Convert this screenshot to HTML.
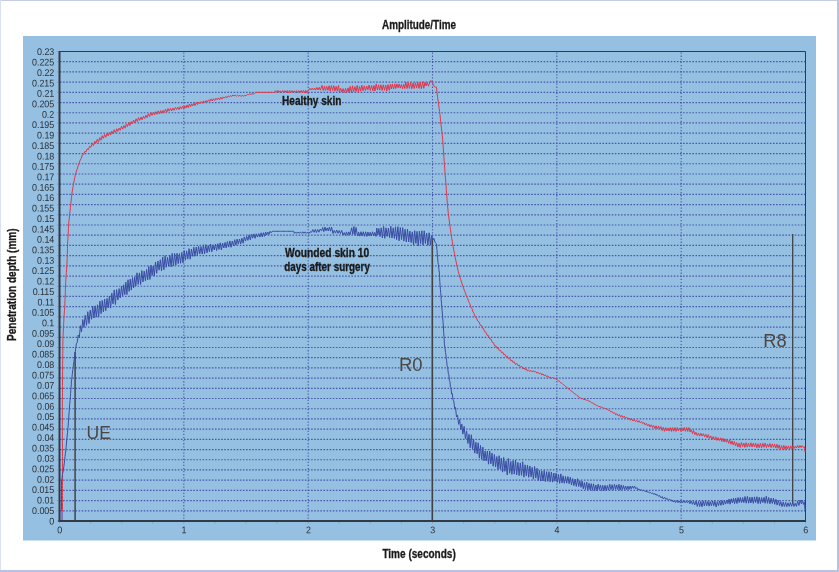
<!DOCTYPE html>
<html lang="en"><head><meta charset="utf-8"><title>Amplitude/Time</title>
<style>html,body{margin:0;padding:0;background:#fff}body{width:839px;height:572px;overflow:hidden}svg{display:block}text{font-family:"Liberation Sans",Arial,sans-serif}.tk{font-size:9.7px;fill:#2b3036}.b{font-weight:bold;fill:#1a1a1a;stroke:#1a1a1a;stroke-width:0.3px}.big{font-size:18px;fill:#4a4744}</style></head><body>
<svg width="839" height="572" viewBox="0 0 839 572">
<rect x="0" y="0" width="839" height="572" fill="#fff"/>
<rect x="0" y="0" width="839" height="1" fill="#c6cee7"/>
<rect x="0" y="0" width="1" height="572" fill="#dbe0f0"/>
<rect x="837" y="0" width="2" height="572" fill="#b7c3e2"/>
<rect x="0" y="570" width="839" height="2" fill="#b7c3e2"/>
<rect x="23" y="36" width="793" height="504.5" fill="#95c0e2"/>
<path d="M60.0 510.79H805.5 M60.0 500.59H805.5 M60.0 490.38H805.5 M60.0 480.17H805.5 M60.0 469.97H805.5 M60.0 459.76H805.5 M60.0 449.55H805.5 M60.0 439.35H805.5 M60.0 429.14H805.5 M60.0 418.93H805.5 M60.0 408.73H805.5 M60.0 398.52H805.5 M60.0 388.32H805.5 M60.0 378.11H805.5 M60.0 367.90H805.5 M60.0 357.70H805.5 M60.0 347.49H805.5 M60.0 337.28H805.5 M60.0 327.08H805.5 M60.0 316.87H805.5 M60.0 306.66H805.5 M60.0 296.46H805.5 M60.0 286.25H805.5 M60.0 276.04H805.5 M60.0 265.84H805.5 M60.0 255.63H805.5 M60.0 245.42H805.5 M60.0 235.22H805.5 M60.0 225.01H805.5 M60.0 214.80H805.5 M60.0 204.60H805.5 M60.0 194.39H805.5 M60.0 184.18H805.5 M60.0 173.98H805.5 M60.0 163.77H805.5 M60.0 153.57H805.5 M60.0 143.36H805.5 M60.0 133.15H805.5 M60.0 122.95H805.5 M60.0 112.74H805.5 M60.0 102.53H805.5 M60.0 92.33H805.5 M60.0 82.12H805.5 M60.0 71.91H805.5 M60.0 61.71H805.5" stroke="#4656a8" stroke-width="1.2" stroke-dasharray="1.55 1.55" fill="none"/>
<path d="M183.83 52.5V521.0 M308.17 52.5V521.0 M432.50 52.5V521.0 M556.83 52.5V521.0 M681.17 52.5V521.0" stroke="#4656a8" stroke-width="1.1" stroke-dasharray="1.3 1.8" fill="none"/>
<path d="M59.5 51.5H805.5V521.0" stroke="#303b49" stroke-width="1" fill="none"/>
<path d="M75.1 352V521" stroke="#414246" stroke-width="1.5" fill="none"/>
<path d="M432.3 238V521" stroke="#414246" stroke-width="1.6" fill="none"/>
<path d="M792.7 234V503" stroke="#414246" stroke-width="1.3" fill="none"/>
<polyline points="62.5,520.0 62.5,516.5 62.5,513.0 62.5,509.6 62.5,506.1 62.5,502.6 62.5,499.1 62.5,495.6 62.5,492.1 62.5,488.7 62.5,485.2 62.5,481.7 62.5,478.1 62.5,474.6 62.5,471.0 62.5,467.4 62.5,463.8 62.5,460.3 62.5,456.7 62.5,453.1 62.5,449.6 62.5,446.0 62.4,442.4 62.4,438.8 62.4,435.3 62.4,431.7 62.4,428.1 62.4,424.6 62.4,421.0 62.4,417.4 62.4,413.8 62.4,410.3 62.4,406.7 62.4,403.2 62.4,399.7 62.5,396.1 62.5,392.6 62.5,389.1 62.5,385.6 62.5,382.1 62.5,378.6 62.6,375.0 62.6,371.5 62.6,368.0 62.6,364.4 62.7,360.8 62.7,357.2 62.8,353.6 62.8,350.1 62.8,346.5 62.9,342.9 62.9,339.3 63.1,335.1 63.3,331.0 63.4,327.8 63.6,324.5 63.8,321.2 63.9,318.0 64.2,314.2 64.5,310.4 64.8,306.6 64.9,303.1 65.0,299.7 65.2,296.2 65.3,292.7 65.4,289.3 65.5,285.8 65.7,282.5 65.9,279.1 66.1,275.8 66.4,272.5 66.6,269.1 66.9,265.8 67.0,262.1 67.2,258.4 67.3,254.7 67.4,251.0 67.5,248.2 67.5,245.3 67.7,241.9 67.9,238.6 68.1,235.2 68.3,231.9 68.4,228.5 68.6,225.2 68.9,221.6 69.3,218.0 69.6,214.4 70.0,211.1 70.4,207.7 70.8,204.4 71.1,201.1 71.5,197.7 71.8,194.4 72.3,191.0 72.9,187.7 73.4,184.3 74.1,180.9 74.8,177.4 75.5,174.0 76.5,171.0 77.8,166.9 79.1,163.2 80.2,160.1 81.2,158.5 82.3,155.0 83.6,154.5 84.9,151.4 86.1,151.8 87.2,148.8 88.4,149.7 89.6,146.2 90.9,147.3 92.2,143.5 93.5,145.5 94.8,141.2 96.0,143.1 97.3,139.2 98.5,142.2 99.7,137.6 101.0,140.2 102.2,135.7 103.4,138.4 104.6,134.5 105.8,137.3 107.0,133.7 108.2,135.8 109.4,132.2 110.6,135.1 111.8,131.2 113.0,133.8 114.2,129.7 115.5,132.6 116.7,128.8 117.9,131.3 119.1,128.1 120.3,130.3 121.5,126.3 122.7,129.2 123.9,125.5 125.1,128.2 126.3,124.1 127.5,126.6 128.7,122.5 129.9,125.5 131.2,121.6 132.4,124.0 133.6,120.0 134.8,123.0 136.1,118.8 137.3,121.5 138.5,117.6 139.7,120.3 141.0,117.0 142.2,119.8 143.4,116.2 144.7,118.5 145.9,115.3 147.1,117.6 148.3,113.7 149.6,116.5 150.8,112.6 152.0,115.4 153.3,112.2 154.5,115.0 155.7,111.7 156.9,114.3 158.2,110.9 159.4,114.0 160.6,110.6 161.9,113.2 163.1,110.3 164.3,112.6 165.5,109.2 166.8,112.2 168.0,108.5 169.2,111.1 170.5,108.3 171.7,110.9 172.9,108.1 174.1,110.3 175.4,107.5 176.6,109.5 177.8,107.1 179.0,109.6 180.2,106.7 181.4,108.9 182.6,106.2 183.8,109.0 184.9,105.9 186.0,108.0 187.1,104.9 188.2,107.6 189.4,104.1 190.5,106.9 191.6,103.9 192.7,106.0 193.8,103.2 195.0,105.6 196.3,102.3 197.5,104.5 198.7,102.3 199.9,103.8 201.2,101.7 202.4,103.3 203.6,100.9 204.9,102.6 206.1,100.6 207.3,102.0 208.5,99.8 209.8,101.4 211.0,98.9 212.2,101.0 213.5,98.7 214.7,100.5 215.9,98.3 217.1,99.8 218.4,97.8 219.6,99.7 220.8,97.3 222.1,99.1 223.3,96.9 224.5,98.2 225.7,96.5 227.0,97.7 228.2,95.9 229.4,96.9 230.5,95.5 231.7,96.5 232.8,95.0 234.0,96.0 235.2,95.0 236.4,96.1 237.6,95.1 238.8,96.2 239.9,95.2 241.1,96.5 242.3,95.1 243.5,96.3 244.7,95.3 246.0,95.8 247.3,94.5 248.6,94.6 249.7,93.9 250.9,94.5 252.0,93.7 253.2,94.1 254.3,93.5 255.8,92.4 257.0,92.4 258.2,92.4 259.4,92.4 260.6,92.4 261.8,92.4 263.0,92.4 264.2,92.4 265.3,92.4 266.5,92.4 267.7,92.4 268.9,92.4 270.1,92.4 271.3,92.4 272.5,92.4 273.7,92.4 274.5,92.4 275.7,90.7 276.8,92.5 278.0,90.4 279.1,92.4 280.3,90.8 281.5,92.8 282.6,90.6 283.8,92.4 284.9,90.6 286.1,92.4 287.2,90.6 288.4,92.8 289.6,90.4 290.7,92.7 291.9,90.7 293.0,92.5 294.2,90.8 295.4,92.7 296.5,90.6 297.7,92.7 298.8,90.7 300.0,92.5 301.1,90.4 302.3,92.8 303.5,90.4 304.6,92.8 305.8,90.4 306.9,92.7 308.1,90.7 308.8,90.2 309.9,88.2 311.1,89.9 312.2,88.2 313.4,90.0 314.6,88.0 315.7,90.1 316.9,87.4 318.0,89.9 319.2,87.3 320.3,90.2 322.0,85.4 323.2,90.5 324.4,86.2 325.5,90.4 326.7,86.3 327.9,90.3 329.1,85.8 330.2,91.2 331.4,85.5 332.6,90.7 333.8,85.7 335.0,91.1 336.1,86.4 337.3,90.9 338.5,85.4 339.4,92.4 340.6,88.1 341.9,92.1 343.1,88.6 344.3,92.4 345.5,88.5 346.8,92.4 348.0,87.9 349.0,92.0 350.2,86.3 351.4,92.8 352.5,85.8 353.7,91.6 354.9,86.6 356.1,91.5 357.2,85.4 358.4,92.5 359.6,86.5 360.6,91.1 361.8,85.3 363.0,90.8 364.3,85.9 365.5,90.6 366.7,86.1 367.9,89.8 369.1,85.0 370.3,90.5 371.6,85.5 372.8,90.8 374.0,85.5 375.0,91.0 376.2,83.9 377.4,90.0 378.6,84.8 379.7,90.1 380.9,84.8 382.1,90.5 383.3,84.8 384.5,90.3 385.7,85.0 386.8,91.0 388.0,84.6 389.2,90.3 390.4,84.3 391.3,89.0 392.4,84.0 393.6,89.0 394.7,83.9 395.8,88.5 396.9,83.9 398.1,87.9 399.2,84.0 400.3,88.1 401.4,84.5 402.6,88.8 403.7,84.3 404.8,88.5 405.8,82.1 407.0,88.5 408.2,82.7 409.4,88.4 410.6,82.3 411.8,88.8 413.0,83.0 414.2,88.5 415.4,82.8 416.6,88.1 417.8,82.0 419.0,88.4 420.2,82.3 421.4,88.8 422.6,81.8 423.8,88.3 425.0,82.2 426.0,86.0 427.3,82.4 428.5,86.2 429.8,82.4 430.8,80.5 431.8,81.9 432.7,83.3 433.6,85.2 434.6,87.0 435.6,87.1 436.5,87.2 436.8,90.1 437.0,92.9 437.6,97.2 438.2,101.6 438.7,104.9 439.1,108.3 439.6,111.6 440.0,114.8 440.3,118.0 440.6,121.3 441.0,124.5 441.4,128.2 441.9,131.9 442.3,135.6 442.7,139.3 442.9,142.9 443.2,146.5 443.4,150.1 443.7,153.7 443.9,157.3 444.2,160.8 444.4,164.4 444.7,168.0 445.0,171.6 445.2,175.2 445.5,178.7 445.8,182.3 446.1,185.9 446.3,189.5 446.6,193.1 446.8,196.7 447.1,200.8 447.5,205.0 447.8,208.1 448.1,211.2 448.4,214.3 448.9,218.1 449.4,222.0 449.9,225.8 450.5,229.6 451.0,233.5 451.6,237.3 452.3,241.6 453.0,245.9 453.7,249.7 454.5,253.5 455.2,257.3 455.9,260.7 456.6,264.0 457.3,267.4 458.4,271.7 459.5,276.0 460.7,279.4 461.8,283.1 463.0,286.3 464.2,290.1 465.4,292.8 466.6,296.9 467.7,298.7 468.8,301.9 469.8,303.5 470.9,307.0 472.0,308.7 473.0,312.0 474.1,313.5 475.2,317.1 476.5,318.0 477.8,321.1 479.0,321.8 480.3,325.3 481.4,325.3 482.5,328.3 483.5,328.5 484.6,331.7 485.9,332.1 487.1,335.3 488.4,335.4 489.6,338.7 490.9,339.0 492.2,342.2 493.4,342.6 494.7,345.9 496.0,345.9 497.1,348.4 498.2,348.1 499.4,350.7 500.5,350.3 501.6,352.7 502.8,352.3 503.9,354.9 505.0,354.4 506.2,356.8 507.3,356.2 508.5,358.6 509.6,358.2 510.8,360.8 512.0,360.1 513.1,362.5 514.3,361.9 515.5,364.5 516.8,363.4 518.0,365.7 519.2,365.1 520.4,367.2 521.7,366.4 522.9,368.7 524.1,367.9 525.2,369.8 526.4,368.9 527.5,371.0 528.7,370.3 529.8,371.4 531.0,370.4 532.1,371.8 533.3,370.7 534.4,372.0 535.6,371.5 536.9,373.1 538.1,372.3 539.3,373.8 540.5,373.0 541.8,375.0 543.0,373.9 544.2,375.7 545.4,374.9 546.6,376.7 547.8,375.9 549.0,377.7 550.2,377.0 551.3,378.4 552.5,377.5 553.6,378.6 554.8,378.3 555.9,378.9 557.1,379.5 558.3,380.8 559.5,381.4 560.7,382.7 561.9,383.3 563.1,384.6 564.3,385.2 565.5,386.6 566.7,387.1 567.9,388.5 569.1,389.1 570.3,390.4 571.4,390.9 572.5,392.1 573.6,392.7 574.7,393.9 575.9,394.4 577.0,395.6 578.1,396.1 579.2,397.5 580.3,397.9 581.5,398.7 582.8,398.7 584.0,399.5 585.2,399.5 586.4,400.3 587.7,400.3 588.9,401.1 590.1,401.4 591.4,402.6 592.6,402.8 593.8,404.1 595.0,404.3 596.3,405.5 597.5,405.7 598.7,406.6 600.0,406.6 601.2,407.4 602.4,407.3 603.6,408.3 604.9,408.2 606.1,409.0 607.3,409.0 608.5,410.5 609.6,410.3 610.8,411.8 612.0,411.6 613.2,413.2 614.5,412.7 615.7,414.8 616.9,413.8 618.2,415.8 619.4,414.4 620.6,417.1 621.8,415.4 623.1,417.7 624.3,416.1 625.5,418.6 626.8,417.2 628.0,419.3 629.2,418.0 630.4,420.3 631.7,418.7 632.9,421.0 634.1,419.4 635.4,421.5 636.6,420.2 637.8,422.2 639.0,420.7 640.3,422.8 641.5,421.5 642.7,423.7 644.0,422.5 645.2,424.9 646.4,423.3 647.6,426.0 648.9,424.3 650.1,427.0 651.3,424.8 652.5,427.5 653.7,425.5 654.9,428.5 656.1,425.9 657.3,429.0 658.5,426.0 659.7,429.2 660.9,426.6 662.1,430.6 663.3,427.4 664.5,431.3 665.7,427.6 666.8,430.8 668.0,427.9 669.1,431.1 670.3,427.6 671.5,431.4 672.6,427.6 673.8,431.2 675.0,427.5 676.1,431.4 677.3,427.6 678.4,431.0 679.6,428.2 680.8,430.9 681.9,427.9 683.1,430.9 684.3,427.4 685.4,431.3 686.6,427.6 687.7,431.4 688.9,427.5 690.1,432.0 691.3,429.7 692.5,433.5 693.6,430.6 694.8,434.6 696.0,432.3 697.2,435.6 698.5,433.0 699.7,436.1 700.9,433.3 702.1,436.0 703.4,433.7 704.6,436.9 705.8,434.3 707.1,437.7 708.3,434.6 709.5,438.4 710.7,435.9 712.0,439.2 713.2,436.5 714.4,440.0 715.7,436.8 716.9,440.4 718.1,437.6 719.3,440.5 720.6,437.8 721.8,441.5 722.9,438.2 724.1,442.0 725.2,439.1 726.3,442.2 727.4,439.6 728.6,443.4 729.7,439.8 730.9,444.2 732.0,440.9 733.2,444.9 734.4,441.5 735.5,445.7 736.7,442.6 737.8,447.0 739.0,443.3 740.2,447.5 741.4,442.6 742.6,446.6 743.8,443.1 744.9,447.4 746.1,442.7 747.3,447.1 748.5,443.4 749.7,446.9 750.9,442.8 752.1,447.0 753.3,443.2 754.5,447.0 755.7,443.3 756.8,447.8 758.0,443.8 759.2,447.7 760.4,443.4 761.6,447.8 762.8,443.3 764.0,447.2 765.2,443.1 766.4,447.5 767.6,444.1 768.7,447.1 769.9,443.6 771.1,447.6 772.3,443.9 773.5,447.3 774.6,444.2 775.8,448.1 776.9,444.3 778.1,448.4 779.2,444.9 780.4,449.5 781.5,445.7 782.7,449.5 783.8,445.3 785.0,449.5 786.1,445.9 787.2,449.0 788.4,445.9 789.6,449.4 790.7,445.9 791.9,448.7 793.0,446.0 794.2,448.4 795.3,446.1 796.5,448.0 797.6,445.5 798.8,447.8 799.9,445.4 801.1,447.5 802.2,445.6 803.4,447.4 804.5,446.7 805.0,452.0" fill="none" stroke="#e0364a" stroke-width="1" stroke-linejoin="round"/>
<polyline points="61.5,520.0 61.5,516.5 61.5,513.1 61.5,509.6 61.5,506.2 61.5,502.7 61.5,499.3 61.5,495.8 61.5,492.4 61.5,488.9 61.5,485.5 61.5,482.0 62.0,478.3 62.4,474.6 63.3,470.5 63.8,466.8 64.3,463.0 64.7,459.8 65.0,456.6 65.4,453.4 65.8,450.2 66.2,446.6 66.5,443.0 66.8,439.4 67.2,435.9 67.6,432.3 67.9,428.7 68.2,425.2 68.4,421.8 68.7,418.4 68.9,414.9 69.2,411.4 69.4,408.0 69.7,404.2 70.1,400.5 70.4,396.7 70.6,393.5 70.8,390.4 71.1,387.2 71.3,384.1 71.5,380.9 72.0,377.1 72.4,373.2 72.9,369.4 73.4,365.6 73.9,361.8 74.4,358.0 75.0,353.5 75.5,350.0 76.3,343.9 77.2,342.5 78.2,335.0 79.3,337.6 80.4,325.7 81.5,331.9 82.8,319.6 84.0,327.5 85.2,315.3 86.5,325.4 87.8,311.7 89.0,323.5 90.2,310.2 91.5,319.3 92.7,306.0 93.9,318.0 95.1,305.8 96.3,317.1 97.5,304.8 98.7,316.8 99.9,301.1 101.1,313.6 102.2,300.4 103.4,312.0 104.6,299.1 105.8,310.7 107.0,298.4 108.2,307.9 109.4,296.2 110.6,308.1 111.8,293.2 113.0,303.9 114.2,290.0 115.4,304.5 116.6,289.6 117.9,299.9 119.1,288.6 120.3,297.9 121.5,286.3 122.6,296.0 123.7,284.8 124.8,294.6 125.8,282.1 126.9,294.6 128.0,279.8 129.1,291.4 130.2,279.1 131.3,290.1 132.5,277.6 133.6,287.9 134.7,276.9 135.8,286.1 137.0,272.8 138.2,284.4 139.4,272.9 140.6,284.5 141.8,270.6 143.0,282.0 144.2,271.1 145.4,280.7 146.6,269.5 147.7,279.9 148.8,266.4 149.9,279.4 151.0,265.2 152.1,275.5 153.2,266.1 154.3,275.9 155.5,262.0 156.7,273.3 157.9,261.0 159.1,270.1 160.3,259.7 161.5,270.8 162.7,257.0 163.9,269.8 165.1,255.7 166.3,267.3 167.5,257.3 168.7,266.3 169.9,255.3 171.1,266.8 172.2,253.4 173.4,266.0 174.6,253.5 175.8,265.1 177.0,253.3 178.2,263.6 179.4,253.7 180.6,263.3 181.8,252.4 183.0,262.8 184.2,250.5 185.4,260.2 186.6,250.9 187.8,259.1 189.0,248.6 190.2,259.2 191.4,249.1 192.6,256.3 193.8,247.3 195.0,256.2 196.2,247.1 197.4,254.8 198.6,246.3 199.8,253.8 201.0,246.5 202.2,254.1 203.4,244.8 204.6,253.9 205.8,244.7 207.0,252.9 208.2,245.6 209.4,251.7 210.6,244.0 211.8,251.8 213.0,244.9 214.2,250.0 215.4,244.1 216.6,250.6 217.8,243.7 219.0,249.4 220.2,242.8 221.4,249.9 222.6,243.0 223.8,248.0 225.0,242.4 226.2,248.0 227.4,241.5 228.7,247.1 229.9,240.9 231.1,247.3 232.3,241.0 233.5,246.0 234.7,239.7 235.9,245.2 237.1,239.1 238.3,244.1 239.5,239.0 240.7,243.9 241.9,238.1 243.1,243.2 244.3,236.9 245.5,241.1 246.7,236.3 247.9,240.3 249.1,234.8 250.3,239.8 251.5,234.5 252.7,238.1 253.9,233.9 255.1,238.3 256.3,233.8 257.5,237.0 258.7,233.7 259.9,237.0 261.1,232.8 262.3,237.0 263.4,232.7 264.5,236.3 265.6,232.0 266.7,234.9 267.8,232.1 268.9,234.5 270.0,231.3 271.1,232.8 272.2,231.3 273.3,231.3 274.5,231.3 275.7,231.3 276.9,231.3 278.1,231.3 279.3,231.3 280.5,231.3 281.7,231.3 282.9,231.3 284.1,231.3 285.3,231.3 286.5,231.3 287.7,231.3 288.9,231.3 290.1,231.3 291.3,231.3 292.5,231.3 293.7,231.3 294.4,233.4 295.6,232.0 296.8,233.3 298.0,232.1 299.2,233.2 300.4,232.1 301.6,233.3 302.8,231.8 304.0,233.3 305.2,231.8 306.4,233.3 307.6,232.1 308.8,233.5 310.0,231.9 311.6,232.2 312.8,229.6 314.1,232.3 315.3,229.4 316.5,232.6 317.7,229.5 319.0,232.2 320.2,229.0 321.6,230.9 322.7,227.5 323.8,231.7 324.9,227.1 326.0,230.9 327.2,227.9 328.3,231.0 329.4,227.0 330.5,231.2 331.6,227.2 333.0,233.6 334.2,230.4 335.5,233.1 336.7,230.0 338.0,233.4 339.2,230.5 340.5,233.5 341.7,230.4 343.0,235.0 344.2,232.6 345.3,235.4 346.5,231.9 347.7,235.3 348.8,231.9 350.0,234.8 351.7,227.8 352.8,234.3 353.9,226.5 354.9,235.1 356.0,227.5 357.5,235.9 358.7,232.2 359.8,236.1 361.0,231.7 362.1,235.8 363.3,231.8 364.4,236.3 365.6,231.8 366.8,236.4 367.9,232.0 369.1,235.9 370.2,232.3 371.4,236.0 372.5,231.8 373.7,235.7 374.8,232.4 376.0,236.4 376.8,228.0 377.9,234.9 378.9,228.5 380.0,236.6 381.2,227.8 382.4,237.9 383.6,226.4 384.8,238.3 386.0,227.8 387.2,236.4 388.4,228.1 389.6,237.7 390.8,226.3 392.0,238.0 393.2,227.8 394.4,238.4 395.5,226.8 396.7,239.6 397.9,226.6 399.1,240.8 400.3,227.5 401.5,239.6 402.7,227.6 403.9,241.1 405.1,229.2 406.3,242.0 407.5,229.1 408.7,241.9 409.9,231.1 411.1,242.6 412.3,231.9 413.5,245.0 414.7,230.7 415.9,243.4 417.0,231.4 418.2,245.9 419.4,231.2 420.6,243.6 421.8,230.8 423.0,245.0 424.2,230.8 425.4,243.5 426.6,233.0 427.9,245.3 429.1,232.8 430.4,244.9 431.6,235.5 433.0,239.9 433.8,238.3 435.2,242.5 436.6,243.9 436.8,249.5 437.1,250.6 437.3,256.0 437.6,257.2 438.0,262.6 438.5,264.8 438.9,269.6 439.4,273.1 439.6,277.4 439.8,281.7 440.1,285.5 440.4,289.3 440.7,292.7 441.0,296.2 441.2,299.6 441.5,303.1 441.8,306.5 442.1,310.2 442.4,314.0 442.7,317.7 443.0,321.5 443.3,325.2 443.5,329.0 443.7,332.5 444.0,336.5 444.2,339.8 444.4,344.1 444.9,347.5 445.5,352.5 445.9,354.5 446.2,358.8 446.6,360.4 447.0,365.3 447.7,367.7 448.4,373.9 448.9,374.8 449.4,380.8 449.9,381.1 450.4,386.9 450.9,387.3 451.6,394.0 452.3,393.5 453.0,400.3 453.8,400.8 454.7,408.6 455.5,407.5 456.5,417.0 457.6,415.2 458.6,424.3 459.7,419.6 460.8,429.5 461.8,424.1 462.9,434.1 464.1,426.3 465.4,438.7 466.6,430.9 467.9,443.5 469.0,434.3 470.2,447.8 471.3,434.8 472.5,449.1 473.6,439.4 474.8,453.1 475.9,442.2 477.1,453.8 478.2,442.8 479.4,458.1 480.5,445.4 481.7,459.3 482.8,447.0 484.0,460.8 485.1,451.0 486.2,460.9 487.4,451.0 488.5,464.2 489.7,451.0 490.8,463.9 492.0,453.0 493.2,466.2 494.4,454.6 495.6,466.9 496.8,456.6 498.0,469.6 499.1,455.7 500.3,469.0 501.4,458.2 502.6,472.1 503.7,457.4 504.9,471.3 506.0,460.8 507.2,475.0 508.4,458.4 509.6,473.2 510.8,461.5 511.9,474.4 513.1,460.5 514.3,474.1 515.5,460.2 516.7,474.8 517.9,462.4 519.1,475.6 520.3,462.9 521.5,475.3 522.7,461.7 523.9,477.2 525.1,464.8 526.3,475.8 527.5,465.0 528.7,477.3 529.9,466.0 531.1,476.8 532.2,467.4 533.4,479.2 534.6,466.5 535.8,478.0 537.0,468.3 538.2,480.5 539.4,470.4 540.6,481.1 541.8,470.9 543.0,481.0 544.2,470.5 545.4,481.5 546.6,471.7 547.8,481.4 549.0,471.6 550.2,481.9 551.4,472.0 552.6,482.1 553.8,473.0 554.9,481.2 556.1,473.1 557.3,482.4 558.5,474.5 559.6,483.3 560.8,473.9 562.0,483.0 563.1,475.8 564.3,483.3 565.5,476.5 566.7,483.2 567.9,476.6 569.1,483.7 570.3,477.2 571.5,485.0 572.7,478.6 573.9,485.7 575.1,479.2 576.3,486.4 577.5,478.7 578.7,486.5 579.8,480.7 581.0,487.3 582.1,481.1 583.3,488.8 584.4,482.5 585.5,489.4 586.7,482.1 587.8,489.9 589.0,483.3 590.1,489.8 591.2,483.6 592.4,490.3 593.5,483.8 594.7,490.8 595.8,485.0 597.0,490.6 598.1,484.1 599.3,489.6 600.4,485.0 601.6,490.5 602.7,485.3 603.9,490.7 605.0,485.3 606.2,490.5 607.3,485.5 608.5,490.1 609.7,484.2 610.9,489.6 612.1,484.7 613.3,490.0 614.5,484.3 615.6,489.3 616.7,484.9 617.8,489.5 618.9,484.3 620.1,490.2 621.2,484.9 622.3,489.6 623.4,485.5 624.5,489.6 625.6,486.0 626.7,489.7 627.9,486.2 629.0,489.5 630.1,486.1 631.2,488.9 632.4,486.0 633.5,488.3 634.6,486.1 635.7,488.8 636.8,487.6 637.8,489.8 638.9,488.9 640.1,490.6 641.3,489.5 642.5,490.9 643.6,490.2 644.8,491.4 646.0,491.0 647.1,492.0 648.2,491.8 649.3,492.8 650.4,492.5 651.5,493.5 652.6,492.9 653.8,494.4 654.9,493.5 656.0,495.1 657.2,494.5 658.4,496.3 659.6,495.5 660.9,497.8 662.1,496.5 663.3,499.0 664.6,497.2 665.9,499.4 667.1,498.3 668.4,500.3 669.7,499.1 670.9,500.8 672.0,499.8 673.1,501.9 674.3,500.7 675.5,502.5 676.7,500.6 677.9,502.7 679.1,500.9 680.3,502.8 681.5,500.8 682.7,502.7 683.9,500.6 685.1,502.8 686.3,501.1 687.5,502.8 688.7,500.9 689.9,503.7 691.2,500.9 692.4,504.3 693.6,501.4 694.8,504.9 696.1,501.1 697.3,506.4 698.5,501.5 699.7,506.5 700.8,501.4 702.0,506.8 703.2,501.0 704.4,506.0 705.5,500.8 706.7,505.7 707.9,501.3 709.1,506.2 710.2,501.6 711.4,505.7 712.6,501.0 713.8,505.7 714.9,501.2 716.1,506.9 717.3,501.7 718.5,505.6 719.7,500.9 720.9,505.4 722.1,500.5 723.3,505.0 724.5,500.7 725.6,504.1 726.7,500.2 727.9,503.6 729.0,499.1 730.1,504.2 731.2,498.8 732.4,503.0 733.5,498.2 734.6,503.7 735.7,498.1 736.9,503.5 738.0,497.6 739.2,502.6 740.3,497.5 741.5,502.5 742.7,497.6 743.8,502.7 745.0,496.5 746.2,503.2 747.4,496.4 748.6,503.2 749.8,497.3 750.9,503.0 752.1,497.0 753.3,503.3 754.5,496.9 755.7,502.5 756.9,496.7 758.0,503.6 759.2,497.3 760.4,503.5 761.6,497.6 762.8,502.5 764.0,497.3 765.1,503.3 766.3,496.2 767.5,503.3 768.7,497.5 769.9,503.8 771.1,498.2 772.3,503.4 773.5,498.2 774.7,504.3 775.9,499.4 777.1,505.1 778.4,500.3 779.6,505.7 780.8,501.6 782.0,506.7 783.2,502.2 784.4,506.5 785.6,502.4 786.8,506.7 788.0,502.8 789.2,506.4 790.4,502.6 791.6,506.3 792.8,502.3 794.0,506.4 795.2,503.2 796.4,506.4 797.6,501.3 798.9,505.5 800.1,500.1 801.4,503.9 802.4,500.3 803.5,504.4 804.5,501.9 804.8,507.0 805.0,510.0" fill="none" stroke="#3a4da3" stroke-width="1" stroke-linejoin="round"/>
<path d="M61.8 511V520" stroke="#6b83d3" stroke-width="2" fill="none"/>
<path d="M59.5 51.0V522.0" stroke="#303b49" stroke-width="2" fill="none"/>
<path d="M58.5 521.0H806.0" stroke="#303b49" stroke-width="2" fill="none"/>
<path d="M59.50 522V523.6 M90.58 522V523.6 M121.67 522V523.6 M152.75 522V523.6 M183.83 522V523.6 M214.92 522V523.6 M246.00 522V523.6 M277.08 522V523.6 M308.17 522V523.6 M339.25 522V523.6 M370.33 522V523.6 M401.42 522V523.6 M432.50 522V523.6 M463.58 522V523.6 M494.67 522V523.6 M525.75 522V523.6 M556.83 522V523.6 M587.92 522V523.6 M619.00 522V523.6 M650.08 522V523.6 M681.17 522V523.6 M712.25 522V523.6 M743.33 522V523.6 M774.42 522V523.6 M805.50 522V523.6 M56.8 521.00H58.4 M56.8 510.79H58.4 M56.8 500.59H58.4 M56.8 490.38H58.4 M56.8 480.17H58.4 M56.8 469.97H58.4 M56.8 459.76H58.4 M56.8 449.55H58.4 M56.8 439.35H58.4 M56.8 429.14H58.4 M56.8 418.93H58.4 M56.8 408.73H58.4 M56.8 398.52H58.4 M56.8 388.32H58.4 M56.8 378.11H58.4 M56.8 367.90H58.4 M56.8 357.70H58.4 M56.8 347.49H58.4 M56.8 337.28H58.4 M56.8 327.08H58.4 M56.8 316.87H58.4 M56.8 306.66H58.4 M56.8 296.46H58.4 M56.8 286.25H58.4 M56.8 276.04H58.4 M56.8 265.84H58.4 M56.8 255.63H58.4 M56.8 245.42H58.4 M56.8 235.22H58.4 M56.8 225.01H58.4 M56.8 214.80H58.4 M56.8 204.60H58.4 M56.8 194.39H58.4 M56.8 184.18H58.4 M56.8 173.98H58.4 M56.8 163.77H58.4 M56.8 153.57H58.4 M56.8 143.36H58.4 M56.8 133.15H58.4 M56.8 122.95H58.4 M56.8 112.74H58.4 M56.8 102.53H58.4 M56.8 92.33H58.4 M56.8 82.12H58.4 M56.8 71.91H58.4 M56.8 61.71H58.4 M56.8 51.50H58.4" stroke="#a4566a" stroke-width="1" fill="none" opacity="0.35"/>
<text class="tk" transform="translate(54.3 55.1) rotate(0.05) scale(0.92 1)" text-anchor="end">0.23</text>
<text class="tk" transform="translate(54.3 65.5) rotate(0.05) scale(0.92 1)" text-anchor="end">0.225</text>
<text class="tk" transform="translate(54.3 76.0) rotate(0.05) scale(0.92 1)" text-anchor="end">0.22</text>
<text class="tk" transform="translate(54.3 86.4) rotate(0.05) scale(0.92 1)" text-anchor="end">0.215</text>
<text class="tk" transform="translate(54.3 96.8) rotate(0.05) scale(0.92 1)" text-anchor="end">0.21</text>
<text class="tk" transform="translate(54.3 107.2) rotate(0.05) scale(0.92 1)" text-anchor="end">0.205</text>
<text class="tk" transform="translate(54.3 117.7) rotate(0.05) scale(0.92 1)" text-anchor="end">0.2</text>
<text class="tk" transform="translate(54.3 128.1) rotate(0.05) scale(0.92 1)" text-anchor="end">0.195</text>
<text class="tk" transform="translate(54.3 138.5) rotate(0.05) scale(0.92 1)" text-anchor="end">0.19</text>
<text class="tk" transform="translate(54.3 149.0) rotate(0.05) scale(0.92 1)" text-anchor="end">0.185</text>
<text class="tk" transform="translate(54.3 159.4) rotate(0.05) scale(0.92 1)" text-anchor="end">0.18</text>
<text class="tk" transform="translate(54.3 169.8) rotate(0.05) scale(0.92 1)" text-anchor="end">0.175</text>
<text class="tk" transform="translate(54.3 180.2) rotate(0.05) scale(0.92 1)" text-anchor="end">0.17</text>
<text class="tk" transform="translate(54.3 190.7) rotate(0.05) scale(0.92 1)" text-anchor="end">0.165</text>
<text class="tk" transform="translate(54.3 201.1) rotate(0.05) scale(0.92 1)" text-anchor="end">0.16</text>
<text class="tk" transform="translate(54.3 211.5) rotate(0.05) scale(0.92 1)" text-anchor="end">0.155</text>
<text class="tk" transform="translate(54.3 222.0) rotate(0.05) scale(0.92 1)" text-anchor="end">0.15</text>
<text class="tk" transform="translate(54.3 232.4) rotate(0.05) scale(0.92 1)" text-anchor="end">0.145</text>
<text class="tk" transform="translate(54.3 242.8) rotate(0.05) scale(0.92 1)" text-anchor="end">0.14</text>
<text class="tk" transform="translate(54.3 253.2) rotate(0.05) scale(0.92 1)" text-anchor="end">0.135</text>
<text class="tk" transform="translate(54.3 263.7) rotate(0.05) scale(0.92 1)" text-anchor="end">0.13</text>
<text class="tk" transform="translate(54.3 274.1) rotate(0.05) scale(0.92 1)" text-anchor="end">0.125</text>
<text class="tk" transform="translate(54.3 284.5) rotate(0.05) scale(0.92 1)" text-anchor="end">0.12</text>
<text class="tk" transform="translate(54.3 295.0) rotate(0.05) scale(0.92 1)" text-anchor="end">0.115</text>
<text class="tk" transform="translate(54.3 305.4) rotate(0.05) scale(0.92 1)" text-anchor="end">0.11</text>
<text class="tk" transform="translate(54.3 315.8) rotate(0.05) scale(0.92 1)" text-anchor="end">0.105</text>
<text class="tk" transform="translate(54.3 326.3) rotate(0.05) scale(0.92 1)" text-anchor="end">0.1</text>
<text class="tk" transform="translate(54.3 336.7) rotate(0.05) scale(0.92 1)" text-anchor="end">0.095</text>
<text class="tk" transform="translate(54.3 347.1) rotate(0.05) scale(0.92 1)" text-anchor="end">0.09</text>
<text class="tk" transform="translate(54.3 357.5) rotate(0.05) scale(0.92 1)" text-anchor="end">0.085</text>
<text class="tk" transform="translate(54.3 368.0) rotate(0.05) scale(0.92 1)" text-anchor="end">0.08</text>
<text class="tk" transform="translate(54.3 378.4) rotate(0.05) scale(0.92 1)" text-anchor="end">0.075</text>
<text class="tk" transform="translate(54.3 388.8) rotate(0.05) scale(0.92 1)" text-anchor="end">0.07</text>
<text class="tk" transform="translate(54.3 399.3) rotate(0.05) scale(0.92 1)" text-anchor="end">0.065</text>
<text class="tk" transform="translate(54.3 409.7) rotate(0.05) scale(0.92 1)" text-anchor="end">0.06</text>
<text class="tk" transform="translate(54.3 420.1) rotate(0.05) scale(0.92 1)" text-anchor="end">0.05</text>
<text class="tk" transform="translate(54.3 430.5) rotate(0.05) scale(0.92 1)" text-anchor="end">0.045</text>
<text class="tk" transform="translate(54.3 441.0) rotate(0.05) scale(0.92 1)" text-anchor="end">0.04</text>
<text class="tk" transform="translate(54.3 451.4) rotate(0.05) scale(0.92 1)" text-anchor="end">0.035</text>
<text class="tk" transform="translate(54.3 461.8) rotate(0.05) scale(0.92 1)" text-anchor="end">0.03</text>
<text class="tk" transform="translate(54.3 472.3) rotate(0.05) scale(0.92 1)" text-anchor="end">0.025</text>
<text class="tk" transform="translate(54.3 482.7) rotate(0.05) scale(0.92 1)" text-anchor="end">0.02</text>
<text class="tk" transform="translate(54.3 493.1) rotate(0.05) scale(0.92 1)" text-anchor="end">0.015</text>
<text class="tk" transform="translate(54.3 503.5) rotate(0.05) scale(0.92 1)" text-anchor="end">0.01</text>
<text class="tk" transform="translate(54.3 514.0) rotate(0.05) scale(0.92 1)" text-anchor="end">0.005</text>
<text class="tk" transform="translate(54.3 524.4) rotate(0.05) scale(0.92 1)" text-anchor="end">0</text>
<text class="tk" transform="translate(59.8 533.2) rotate(0.05) scale(0.92 1)" text-anchor="middle">0</text>
<text class="tk" transform="translate(184.1 533.2) rotate(0.05) scale(0.92 1)" text-anchor="middle">1</text>
<text class="tk" transform="translate(308.5 533.2) rotate(0.05) scale(0.92 1)" text-anchor="middle">2</text>
<text class="tk" transform="translate(432.8 533.2) rotate(0.05) scale(0.92 1)" text-anchor="middle">3</text>
<text class="tk" transform="translate(557.1 533.2) rotate(0.05) scale(0.92 1)" text-anchor="middle">4</text>
<text class="tk" transform="translate(681.5 533.2) rotate(0.05) scale(0.92 1)" text-anchor="middle">5</text>
<text class="tk" transform="translate(805.8 533.2) rotate(0.05) scale(0.92 1)" text-anchor="middle">6</text>
<text class="b" x="382" y="29" font-size="12" textLength="74" lengthAdjust="spacingAndGlyphs">Amplitude/Time</text>
<text class="b" x="382.4" y="558" font-size="12" textLength="73.4" lengthAdjust="spacingAndGlyphs">Time (seconds)</text>
<text class="b" transform="translate(16.3 341) rotate(-90)" font-size="12" textLength="112.6" lengthAdjust="spacingAndGlyphs">Penetration depth (mm)</text>
<text class="b" x="282" y="104.9" font-size="12" textLength="59.4" lengthAdjust="spacingAndGlyphs">Healthy skin</text>
<text class="b" x="285" y="256.8" font-size="12" textLength="84.2" lengthAdjust="spacingAndGlyphs">Wounded skin 10</text>
<text class="b" x="284.3" y="271" font-size="12" textLength="85.6" lengthAdjust="spacingAndGlyphs">days after surgery</text>
<text class="big" x="86.5" y="438.7" textLength="24.4" lengthAdjust="spacingAndGlyphs">UE</text>
<text class="big" x="399" y="371.3" textLength="23.6" lengthAdjust="spacingAndGlyphs">R0</text>
<text class="big" x="763.3" y="347.3" textLength="23.4" lengthAdjust="spacingAndGlyphs">R8</text>
</svg></body></html>
